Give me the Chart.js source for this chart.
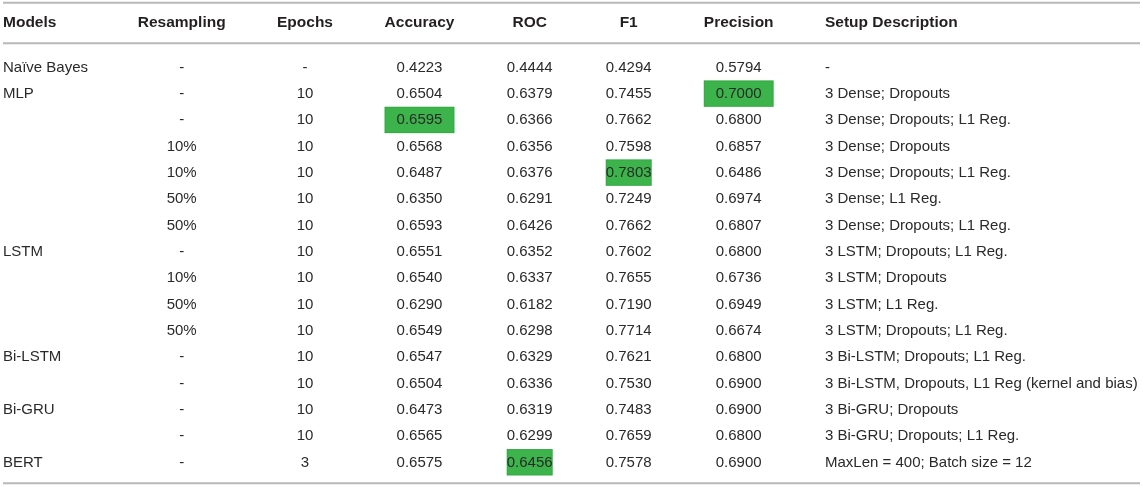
<!DOCTYPE html>
<html>
<head>
<meta charset="utf-8">
<script src="https://cdn.jsdelivr.net/npm/chart.js@4"></script>
<style>
html,body{margin:0;padding:0;background:#fff;}
#wrap{width:1143px;height:487px;position:relative;}
</style>
</head>
<body>
<div id="wrap"><canvas id="c"></canvas></div>
<script>
// ---- DATA ----
const headers = ['Models','Resampling','Epochs','Accuracy','ROC','F1','Precision','Setup Description'];
const models = ['Naïve Bayes','MLP','','','','','','LSTM','','','','Bi-LSTM','','Bi-GRU','','BERT'];
const resampling = ['-','-','-','10%','10%','50%','50%','-','10%','50%','50%','-','-','-','-','-'];
const epochs = ['-','10','10','10','10','10','10','10','10','10','10','10','10','10','10','3'];
const accuracy = [0.4223,0.6504,0.6595,0.6568,0.6487,0.6350,0.6593,0.6551,0.6540,0.6290,0.6549,0.6547,0.6504,0.6473,0.6565,0.6575];
const roc = [0.4444,0.6379,0.6366,0.6356,0.6376,0.6291,0.6426,0.6352,0.6337,0.6182,0.6298,0.6329,0.6336,0.6319,0.6299,0.6456];
const f1 = [0.4294,0.7455,0.7662,0.7598,0.7803,0.7249,0.7662,0.7602,0.7655,0.7190,0.7714,0.7621,0.7530,0.7483,0.7659,0.7578];
const precision = [0.5794,0.7000,0.6800,0.6857,0.6486,0.6974,0.6807,0.6800,0.6736,0.6949,0.6674,0.6800,0.6900,0.6900,0.6800,0.6900];
const setup = ['-','3 Dense; Dropouts','3 Dense; Dropouts; L1 Reg.','3 Dense; Dropouts','3 Dense; Dropouts; L1 Reg.','3 Dense; L1 Reg.','3 Dense; Dropouts; L1 Reg.','3 LSTM; Dropouts; L1 Reg.','3 LSTM; Dropouts','3 LSTM; L1 Reg.','3 LSTM; Dropouts; L1 Reg.','3 Bi-LSTM; Dropouts; L1 Reg.','3 Bi-LSTM, Dropouts, L1 Reg (kernel and bias)','3 Bi-GRU; Dropouts','3 Bi-GRU; Dropouts; L1 Reg.','MaxLen = 400; Batch size = 12'];
// highlighted (best) cells: [row, column]
const highlights = [[2,3],[1,6],[4,5],[15,4]];

// ---- LAYOUT / STYLE ----
const colX = [3,181.7,305,419.5,529.7,628.7,738.7,825];
const colAlign = ['left','center','center','center','center','center','center','left'];
const headerRow = -1.686;
const ruleRows = [-2.431,-0.889,15.822];
const FONT = "'Liberation Sans', Arial, Helvetica, sans-serif";
const textColor = '#231f20';
const green = '#3cb44b';

const fmt = v => typeof v === 'number' ? v.toFixed(4) : v;
const columns = [models,resampling,epochs,accuracy,roc,f1,precision,setup];

const tablePlugin = {
  id: 'table',
  afterDatasetsDraw(chart) {
    const ctx = chart.ctx;
    const xs = chart.scales.x, ys = chart.scales.y;
    const rowH = Math.abs(ys.getPixelForValue(1) - ys.getPixelForValue(0));
    ctx.save();
    // rules
    ctx.strokeStyle = '#b8b8b8';
    ctx.lineWidth = 2;
    ruleRows.forEach(r => {
      const y = ys.getPixelForValue(r);
      ctx.beginPath();
      ctx.moveTo(xs.getPixelForValue(3), y);
      ctx.lineTo(xs.getPixelForValue(1140), y);
      ctx.stroke();
    });
    // highlight boxes
    highlights.forEach(([r,c]) => {
      ctx.font = 'bold 15.5px ' + FONT;
      const hw = ctx.measureText(headers[c]).width;
      ctx.font = '15px ' + FONT;
      const tw = ctx.measureText(fmt(columns[c][r])).width;
      const w = Math.max(hw, tw);
      const cx = xs.getPixelForValue(colX[c]);
      const cy = ys.getPixelForValue(r) + 0.6;
      ctx.fillStyle = green;
      ctx.fillRect(cx - w/2, cy - rowH/2, w, rowH);
      ctx.strokeStyle = 'rgba(40,150,60,0.35)';
      ctx.lineWidth = 1;
      ctx.strokeRect(cx - w/2 + 0.5, cy - rowH/2 + 0.5, w - 1, rowH - 1);
    });
    // header
    ctx.fillStyle = textColor;
    ctx.textBaseline = 'middle';
    ctx.font = 'bold 15.5px ' + FONT;
    headers.forEach((h,c) => {
      ctx.textAlign = colAlign[c];
      ctx.fillText(h, xs.getPixelForValue(colX[c]), ys.getPixelForValue(headerRow));
    });
    // body
    ctx.font = '15px ' + FONT;
    ctx.fillStyle = '#2a2a2a';
    columns.forEach((col,c) => {
      ctx.textAlign = colAlign[c];
      col.forEach((v,r) => {
        const s = fmt(v);
        if (s === '') return;
        ctx.fillText(s, xs.getPixelForValue(colX[c]), ys.getPixelForValue(r) + 1);
      });
    });
    ctx.restore();
  }
};

new Chart(document.getElementById('c'), {
  type: 'scatter',
  data: { datasets: [{ data: [], pointRadius: 0 }] },
  options: {
    responsive: true,
    maintainAspectRatio: false,
    animation: false,
    layout: { padding: 0 },
    plugins: { legend: { display: false }, tooltip: { enabled: false } },
    scales: {
      x: { type: 'linear', min: 0, max: 1143, display: false },
      y: { type: 'linear', min: -2.533, max: 15.963, reverse: true, display: false }
    }
  },
  plugins: [tablePlugin]
});
</script>
</body>
</html>
